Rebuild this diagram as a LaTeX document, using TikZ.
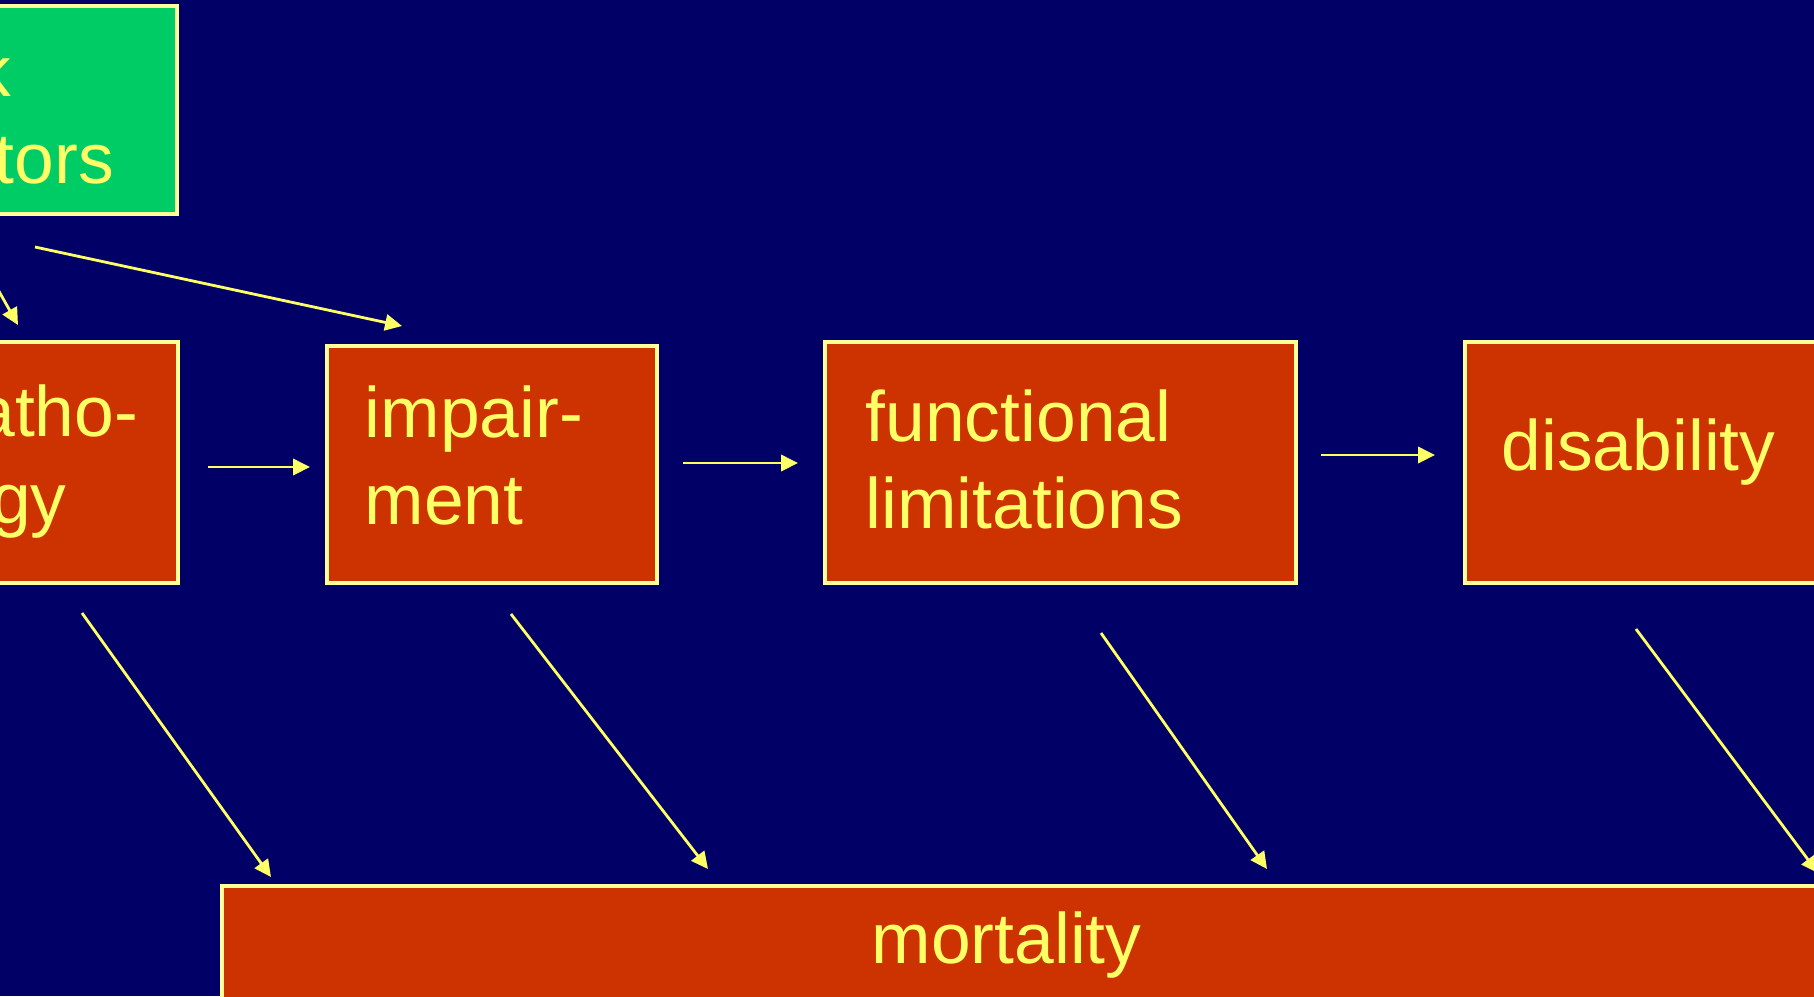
\documentclass[tikz,border=0pt]{standalone}
\usepackage{fontspec}
\setmainfont{Liberation Sans}
\usetikzlibrary{arrows.meta}

\newlength{\du}
\setlength{\du}{0.01cm}

\definecolor{slidebg}{rgb}{0.000000, 0.000000, 0.400000}
\definecolor{boxred}{rgb}{0.800000, 0.200000, 0.000000}
\definecolor{boxgreen}{rgb}{0.000000, 0.800000, 0.400000}
\definecolor{rimyellow}{rgb}{1.000000, 1.000000, 0.600000}
\definecolor{textyellow}{rgb}{1.000000, 1.000000, 0.400000}

\tikzset{
  stagebox/.style={draw=rimyellow, line width=3.2\du, fill=boxred, inner sep=0pt},
  riskbox/.style={stagebox, fill=boxgreen},
  stagetext/.style={text=textyellow, font=\fontsize{20.3}{24.5}\selectfont,
    align=left, inner sep=0pt, anchor=base west},
  link/.style={draw=textyellow, line width=2.8\du,
    -{Triangle[length=4.8pt, width=4.6pt]}},
}

\begin{document}
\begin{tikzpicture}
\pgftransformyscale{-1.000000}
\useasboundingbox (0\du,0\du) rectangle (1814\du,996\du);
\clip (0\du,0\du) rectangle (1814\du,996\du);
\fill[slidebg] (0\du,0\du) rectangle (1814\du,996\du);

% boxes
\node[riskbox, minimum width=312\du, minimum height=208\du] (risk) at (21\du,110\du) {};
\node[stagebox, minimum width=282\du, minimum height=241\du] (patho) at (37\du,462.5\du) {};
\node[stagebox, minimum width=330\du, minimum height=237\du] (impair) at (492\du,464.5\du) {};
\node[stagebox, minimum width=471\du, minimum height=241\du] (func) at (1060.5\du,462.5\du) {};
\node[stagebox, minimum width=420\du, minimum height=241\du] (disab) at (1675\du,462.5\du) {};
\node[stagebox, minimum width=1700\du, minimum height=260\du] (mort) at (1072\du,1016\du) {};

% texts (base = last line)
\node[stagetext] (risktxt) at (-101\du,183\du) {risk\\factors};
\node[stagetext] (pathotxt) at (-65\du,523\du) {patho-\\logy};
\node[stagetext] (impairtxt) at (364\du,524\du) {impair-\\ment};
\node[stagetext] (functxt) at (865\du,528\du) {functional\\limitations};
\node[stagetext] (disabtxt) at (1501\du,470\du) {disability};
\node[stagetext] (morttxt) at (871\du,963\du) {mortality};

% arrow ends
\coordinate (r1s) at (-30\du,240\du);
\coordinate (r1e) at (18\du,325\du);
\coordinate (r2s) at (35\du,247\du);
\coordinate (r2e) at (402\du,326\du);
\coordinate (h1s) at (208\du,467\du);
\coordinate (h1e) at (310\du,467\du);
\coordinate (h2s) at (683\du,463\du);
\coordinate (h2e) at (798\du,463\du);
\coordinate (h3s) at (1321\du,455\du);
\coordinate (h3e) at (1435\du,455\du);
\coordinate (d1s) at (82\du,613\du);
\coordinate (d1e) at (271\du,877\du);
\coordinate (d2s) at (511\du,614\du);
\coordinate (d2e) at (708\du,869\du);
\coordinate (d3s) at (1101\du,633\du);
\coordinate (d3e) at (1267\du,869\du);
\coordinate (d4s) at (1636\du,629\du);
\coordinate (d4e) at (1818\du,873\du);

% connectors
\draw[link] (r1s) -- (r1e);
\draw[link] (r2s) -- (r2e);
\draw[link] (h1s) -- (h1e);
\draw[link] (h2s) -- (h2e);
\draw[link] (h3s) -- (h3e);
\draw[link] (d1s) -- (d1e);
\draw[link] (d2s) -- (d2e);
\draw[link] (d3s) -- (d3e);
\draw[link] (d4s) -- (d4e);
\end{tikzpicture}
\end{document}
